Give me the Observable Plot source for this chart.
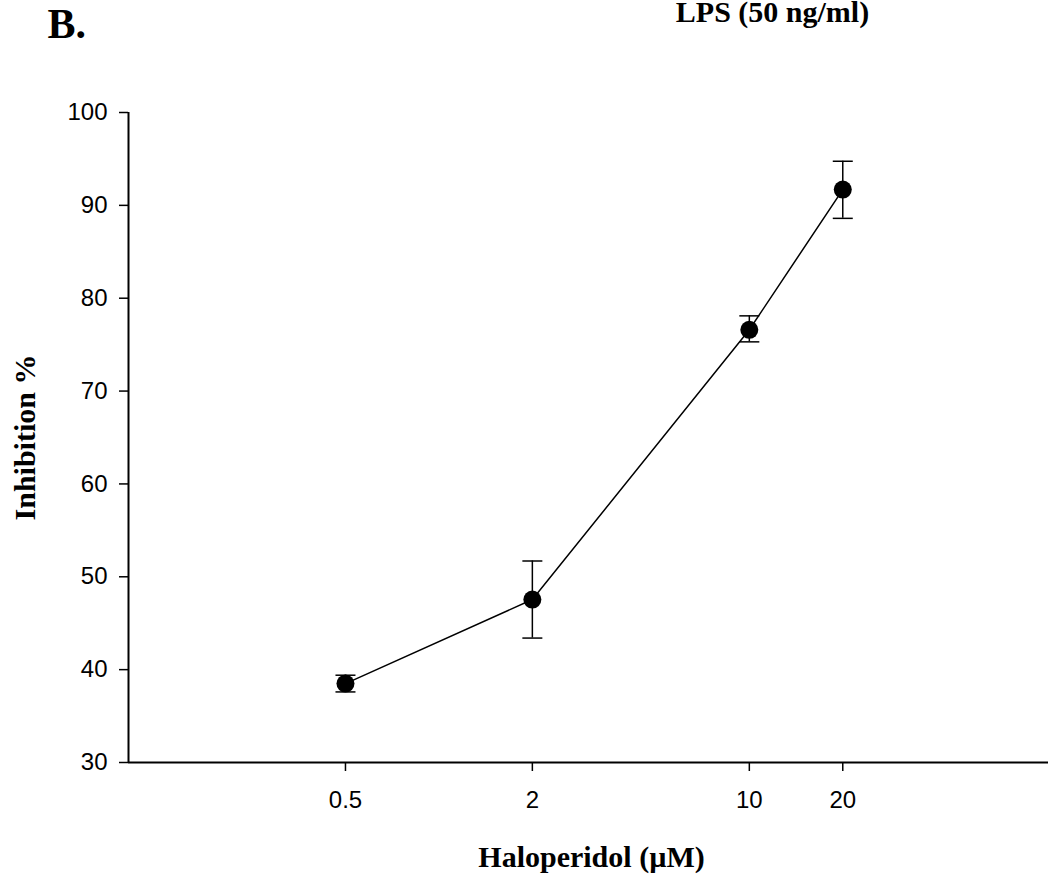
<!DOCTYPE html>
<html>
<head>
<meta charset="utf-8">
<script src="https://cdn.jsdelivr.net/npm/d3@7"></script>
<script src="https://cdn.jsdelivr.net/npm/@observablehq/plot@0.6"></script>
<style>
  body { margin: 0; background: #fff; }
  #chart { width: 1048px; height: 875px; overflow: hidden; }
</style>
</head>
<body>
<div id="chart"></div>
<script>
// ---- data ----
const doses = [0.5, 2, 10, 20];                 // Haloperidol (µM)
const inhibition = [38.5, 47.55, 76.6, 91.7];   // Inhibition %
const errLow = [37.6, 43.4, 75.3, 88.6];
const errHigh = [39.4, 51.7, 78.1, 94.75];
const xTicks = [0.5, 2, 10, 20];
const xTickLabels = ["0.5", "2", "10", "20"];
const yTicks = [30, 40, 50, 60, 70, 80, 90, 100];
const panelLabel = "B.";
const conditionLabel = "LPS (50 ng/ml)";
const xLabel = "Haloperidol (µM)";
const yLabel = "Inhibition %";

const data = doses.map((d, i) => ({dose: d, value: inhibition[i], lo: errLow[i], hi: errHigh[i]}));
const xTickData = xTicks.map((d, i) => ({x: d, label: xTickLabels[i]}));

// horizontal cap symbol for error bars (half-width = r)
const capSymbol = {
  draw(context, size) {
    const w = Math.sqrt(size / Math.PI);
    context.moveTo(-w, 0);
    context.lineTo(w, 0);
  }
};

const serif = "'Liberation Serif', 'Times New Roman', serif";

const chart = Plot.plot({
  width: 1048,
  height: 875,
  marginLeft: 128,
  marginRight: 0,
  marginTop: 112,
  marginBottom: 113,
  style: {fontFamily: "'Liberation Sans', Arial, sans-serif", background: "#fff", color: "#000", overflow: "visible"},
  x: {type: "log", domain: [0.1, 92]},
  y: {domain: [30, 100]},
  marks: [
    Plot.ruleY([30], {stroke: "black", strokeWidth: 2}),
    Plot.ruleX([0.1], {y1: 30, y2: 100, stroke: "black", strokeWidth: 2}),
    Plot.axisX({ticks: xTicks, tickFormat: () => "", tickSize: 9, strokeWidth: 1.5, label: null}),
    Plot.text(xTickData, {x: "x", text: "label", frameAnchor: "bottom", dy: 28, lineAnchor: "top", fontSize: 24, fill: "black"}),
    Plot.axisY({ticks: yTicks, tickSize: 9, tickPadding: 12, fontSize: 24, strokeWidth: 1.5, label: null}),
    Plot.ruleX(data, {x: "dose", y1: "lo", y2: "hi", stroke: "black", strokeWidth: 1.5}),
    Plot.dot(data, {x: "dose", y: "lo", symbol: capSymbol, r: 10, stroke: "black", strokeWidth: 1.5, fill: "none"}),
    Plot.dot(data, {x: "dose", y: "hi", symbol: capSymbol, r: 10, stroke: "black", strokeWidth: 1.5, fill: "none"}),
    Plot.line(data, {x: "dose", y: "value", stroke: "black", strokeWidth: 1.5}),
    Plot.dot(data, {x: "dose", y: "value", r: 9, fill: "black", stroke: "none"}),
    Plot.text([panelLabel], {frameAnchor: "top-left", dx: -81, dy: -75, textAnchor: "start", lineAnchor: "bottom", fontFamily: serif, fontWeight: "bold", fontSize: 42, fill: "black"}),
    Plot.text([conditionLabel], {frameAnchor: "top", dx: 184, dy: -91, textAnchor: "middle", lineAnchor: "bottom", fontFamily: serif, fontWeight: "bold", fontSize: 30, fill: "black"}),
    Plot.text([xLabel], {frameAnchor: "bottom", dx: 3, dy: 104, textAnchor: "middle", lineAnchor: "bottom", fontFamily: serif, fontWeight: "bold", fontSize: 30, fill: "black"}),
    Plot.text([yLabel], {frameAnchor: "left", dx: -103, dy: 0, rotate: -90, textAnchor: "middle", lineAnchor: "middle", fontFamily: serif, fontWeight: "bold", fontSize: 30, fill: "black"})
  ]
});
document.getElementById("chart").appendChild(chart);
</script>
</body>
</html>
